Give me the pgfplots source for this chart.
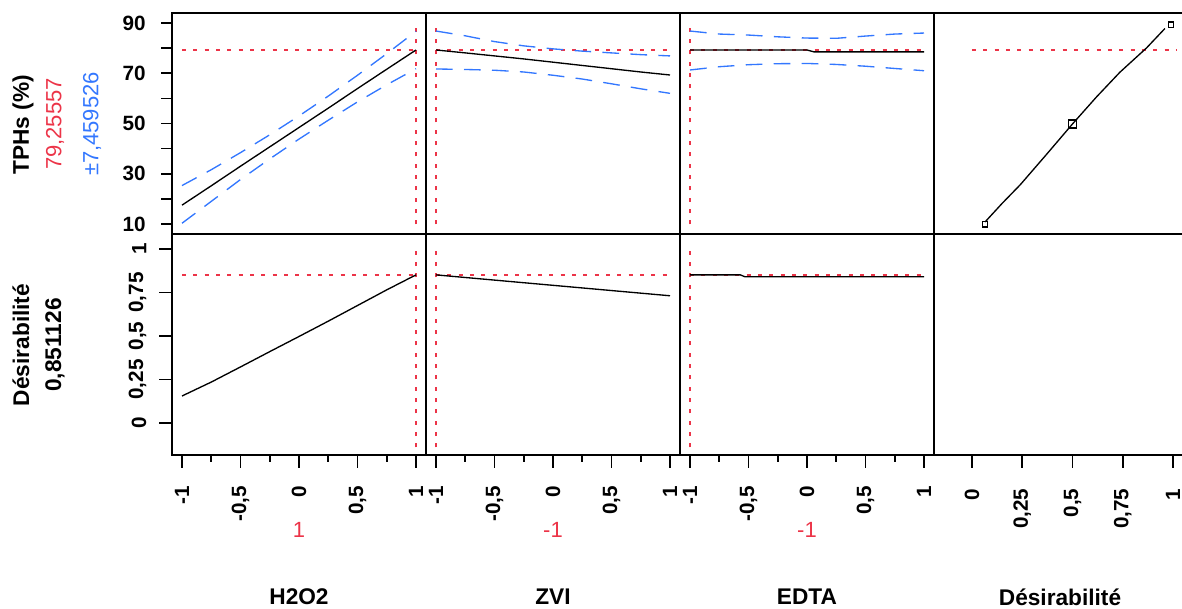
\documentclass[border=0pt]{standalone}
\usepackage{fontspec}
\setmainfont{Liberation Sans}
\usepackage{pgfplots}
\pgfplotsset{compat=1.18}

\definecolor{jred}{RGB}{236,52,72}
\definecolor{jblue}{RGB}{51,119,255}

\newcommand\tickf{\fontsize{15.5}{17}\selectfont\bfseries}
\newcommand\labf{\fontsize{17}{19}\selectfont\bfseries}
\newcommand\valf{\fontsize{16.5}{19}\selectfont}

\pgfplotsset{
  prof/.style={
    scale only axis, width=190.5pt, height=165.75pt,
    anchor=south west,
    axis line style={line width=1.2pt},
    xtick=\empty, ytick=\empty,
    xtick pos=left, ytick pos=left,
    tick align=outside,
    tick style={line width=1.2pt, black},
    major tick length=8.25pt, minor tick length=5.25pt,
    ticklabel style={font=\tickf},
    clip=true,
  },
  toprow/.style={ymin=6.02, ymax=93.98},
  botrow/.style={ymin=-0.184, ymax=1.086},
  fcol/.style={xmin=-1.0855, xmax=1.0855},
  dcol/.style={xmin=-0.189, xmax=1.075},
  fxticks/.style={
    xtick={-1,-0.5,0,0.5,1}, xticklabels={-1,{-0,5},0,{0,5},1},
    minor xtick={-0.75,-0.25,0.25,0.75},
    major tick length=9.75pt,
    xticklabel style={yshift=-10pt, rotate=90, anchor=east},
  },
  mid/.style={black, line width=1pt},
  ci/.style={jblue, line width=1pt, dash pattern=on 12.5pt off 8.5pt},
  cur/.style={jred, line width=1pt, dash pattern=on 3pt off 5.5pt},
}

\begin{document}
\begin{tikzpicture}[x=0.75pt, y=0.75pt]
\useasboundingbox (0,0) rectangle (1182,609);

% ---- top row: TPHs
\begin{axis}[prof, toprow, fcol, at={(129pt,281.25pt)},
    ytick={10,30,50,70,90}, yticklabels={10,30,50,70,90},
    minor ytick={20,40,60,80}, minor tick length=8.25pt,
    yticklabel style={xshift=-8pt}]
\addplot[cur] coordinates {(-1,79.25557) (1,79.25557)};
\addplot[cur] coordinates {(1,9.8) (1,90.2)};
\addplot[ci] coordinates {(-1,25.3) (-0.75,31.6) (-0.5,38.4) (-0.25,45.5) (0,53.0) (0.25,60.9) (0.5,69.2) (0.75,77.8) (1,86.7)};
\addplot[ci] coordinates {(-1,10.3) (-0.75,19.0) (-0.5,27.7) (-0.25,35.9) (0,43.8) (0.25,51.3) (0.5,58.6) (0.75,65.4) (1,71.8)};
\addplot[mid] coordinates {(-1,17.5) (-0.75,25.2) (-0.5,33.0) (-0.25,40.7) (0,48.4) (0.25,56.1) (0.5,63.9) (0.75,71.6) (1,79.26)};
\end{axis}

\begin{axis}[prof, toprow, fcol, at={(319.5pt,281.25pt)}]
\addplot[cur] coordinates {(-1,79.25557) (1,79.25557)};
\addplot[cur] coordinates {(-1,9.8) (-1,90.2)};
\addplot[ci] coordinates {(-1,86.8) (-0.75,84.9) (-0.5,82.6) (-0.25,80.9) (0,79.7) (0.25,78.8) (0.5,78.1) (0.75,77.4) (1,76.9)};
\addplot[ci] coordinates {(-1,71.7) (-0.75,71.5) (-0.5,71.2) (-0.25,70.5) (0,69.2) (0.25,67.7) (0.5,65.8) (0.75,63.8) (1,62.0)};
\addplot[mid] coordinates {(-1,79.26) (-0.75,78.1) (-0.5,76.9) (-0.25,75.7) (0,74.4) (0.25,73.1) (0.5,71.8) (0.75,70.5) (1,69.3)};
\end{axis}

\begin{axis}[prof, toprow, fcol, at={(510pt,281.25pt)}]
\addplot[cur] coordinates {(-1,79.25557) (1,79.25557)};
\addplot[cur] coordinates {(-1,9.8) (-1,90.2)};
\addplot[ci] coordinates {(-1,86.8) (-0.75,85.6) (-0.5,85.2) (-0.25,84.5) (0,84.0) (0.25,83.9) (0.5,84.8) (0.75,85.6) (1,86.0)};
\addplot[ci] coordinates {(-1,71.3) (-0.75,72.6) (-0.5,73.4) (-0.25,73.8) (0,73.9) (0.25,73.5) (0.5,72.8) (0.75,71.9) (1,71.0)};
\addplot[mid] coordinates {(-1,79.26) (0,79.26) (0.06,78.5) (1,78.5)};
\end{axis}

\begin{axis}[prof, toprow, dcol, at={(700.5pt,281.25pt)}]
\addplot[cur] coordinates {(0,79.25557) (1.02,79.25557)};
\addplot[mid] coordinates {(0.065,10.8) (0.15,18.2) (0.24,25.6) (0.372,37.8) (0.5,49.8) (0.62,60.6) (0.736,70.4) (0.869,80.1) (0.96,87.8)};
\addplot[only marks, mark=square, mark size=3pt, mark options={line width=1pt, black}] coordinates {(0.5,49.8)};
\addplot[only marks, mark=square, mark size=2pt, mark options={line width=1pt, black}] coordinates {(0.065,9.8) (0.99,89.4)};
\end{axis}

% ---- bottom row: desirability
\begin{axis}[prof, botrow, fcol, fxticks, at={(129pt,115.5pt)},
    ytick={0,0.25,0.5,0.75,1}, yticklabels={0,{0,25},{0,5},{0,75},1},
    yticklabel style={xshift=-6pt, rotate=90, anchor=south}]
\addplot[cur] coordinates {(-1,0.851126) (1,0.851126)};
\addplot[cur] coordinates {(1,-0.14) (1,1.02)};
\addplot[mid] coordinates {(-1,0.155) (-0.75,0.235) (-0.5,0.322) (-0.25,0.41) (0,0.497) (0.25,0.585) (0.5,0.675) (0.75,0.765) (1,0.851)};
\end{axis}

\begin{axis}[prof, botrow, fcol, fxticks, at={(319.5pt,115.5pt)}]
\addplot[cur] coordinates {(-1,0.851126) (1,0.851126)};
\addplot[cur] coordinates {(-1,-0.14) (-1,1.02)};
\addplot[mid] coordinates {(-1,0.851) (-0.75,0.836) (-0.5,0.821) (-0.25,0.806) (0,0.791) (0.25,0.776) (0.5,0.761) (0.75,0.746) (1,0.731)};
\end{axis}

\begin{axis}[prof, botrow, fcol, fxticks, at={(510pt,115.5pt)}]
\addplot[cur] coordinates {(-1,0.851126) (1,0.851126)};
\addplot[cur] coordinates {(-1,-0.14) (-1,1.02)};
\addplot[mid] coordinates {(-1,0.851) (-0.57,0.851) (-0.53,0.84) (1,0.84)};
\end{axis}

\begin{axis}[prof, botrow, dcol, at={(700.5pt,115.5pt)},
    xtick={0,0.25,0.5,0.75,1}, xticklabels={0,{0,25},{0,5},{0,75},1},
    major tick length=9.75pt,
    xticklabel style={yshift=-15.2pt, rotate=90, anchor=east, inner sep=0pt}]
\end{axis}

% ---- response labels
\node[rotate=90, font=\labf] at (23,484) {TPHs (\%)};
\node[rotate=90, font=\valf, text=jred] at (55,485) {79,25557};
\node[rotate=90, font=\valf, text=jblue] at (92,485) {±7,459526};
\node[rotate=90, font=\labf] at (21,264) {Désirabilité};
\node[rotate=90, font=\labf] at (55,264) {0,851126};

% ---- current factor settings and factor names
\node[font=\valf, text=jred] at (299,79) {1};
\node[font=\valf, text=jred] at (553,79) {-1};
\node[font=\valf, text=jred] at (807,79) {-1};
\node[font=\labf, inner sep=0pt] at (299,12) {H2O2};
\node[font=\labf, inner sep=0pt] at (553,12) {ZVI};
\node[font=\labf, inner sep=0pt] at (807,12) {EDTA};
\node[font=\labf, inner sep=0pt] at (1060,12) {Désirabilité};
\end{tikzpicture}
\end{document}
